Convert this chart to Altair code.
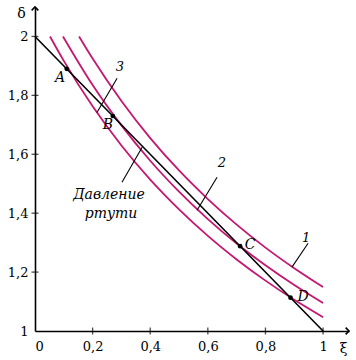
import altair as alt
import pandas as pd

# Curve data (xi, delta)
c1_xi = [0.153, 0.2, 0.3, 0.4, 0.5, 0.6, 0.7, 0.8, 0.9, 1.0]
c1_de = [2.0, 1.925, 1.781, 1.655, 1.545, 1.448, 1.361, 1.283, 1.213, 1.149]
c2_xi = [0.097, 0.2, 0.3, 0.4, 0.5, 0.6, 0.7, 0.8, 0.9, 1.0]
c2_de = [2.0, 1.835, 1.698, 1.578, 1.473, 1.380, 1.297, 1.223, 1.156, 1.095]
c3_xi = [0.052, 0.1, 0.2, 0.3, 0.4, 0.5, 0.6, 0.7, 0.8, 0.9, 1.0]
c3_de = [2.0, 1.917, 1.763, 1.630, 1.514, 1.413, 1.323, 1.243, 1.171, 1.106, 1.047]

line_xi = [0.0, 1.0]
line_de = [2.0, 1.0]

pt_names = ["A", "B", "C", "D"]
pt_xi = [0.11, 0.27, 0.712, 0.887]
pt_de = [1.89, 1.73, 1.288, 1.113]
pt_lab_xi = [0.087, 0.253, 0.747, 0.931]
pt_lab_de = [1.858, 1.698, 1.292, 1.115]

num_labels = ["3", "2", "1"]
num_xi = [0.295, 0.649, 0.941]
num_de = [1.895, 1.569, 1.315]

lead_x1 = [0.285, 0.632, 0.948, 0.372]
lead_y1 = [1.858, 1.522, 1.298, 1.624]
lead_x2 = [0.215, 0.5625, 0.892, 0.302]
lead_y2 = [1.742, 1.410, 1.217, 1.505]

text_lines = ["Давление", "ртути"]
text_xi = [0.257, 0.264]
text_de = [1.461, 1.397]

x_ticks = [0.2, 0.4, 0.6, 0.8, 1.0]
y_ticks = [1.2, 1.4, 1.6, 1.8, 2.0]

XMAX = 1.09
YMAX = 2.1
MAG = "#c4176f"
SERIF = "DejaVu Serif"

curves = pd.concat([
    pd.DataFrame({"xi": c1_xi, "de": c1_de, "c": "1"}),
    pd.DataFrame({"xi": c2_xi, "de": c2_de, "c": "2"}),
    pd.DataFrame({"xi": c3_xi, "de": c3_de, "c": "3"}),
])

xs = alt.Scale(domain=[0, XMAX], nice=False, zero=False)
ys = alt.Scale(domain=[1, YMAX], nice=False, zero=False)

xlab = "datum.value == 0 ? '0' : datum.value == 1 ? '1' : replace(format(datum.value, '.1f'), '.', ',')"
ylab = "datum.value == 1 ? '1' : datum.value == 2 ? '2' : replace(format(datum.value, '.1f'), '.', ',')"

xaxis = alt.Axis(values=[0, 0.2, 0.4, 0.6, 0.8, 1.0], labelExpr=xlab, ticks=False, tickSize=0,
                 labelPadding=9, grid=False, title="ξ", titleX=308, titleY=17,
                 titleBaseline="middle", titleAlign="center", titleFont=SERIF,
                 titleFontSize=14, titleFontWeight="normal")
yaxis = alt.Axis(values=[1, 1.2, 1.4, 1.6, 1.8, 2.0], labelExpr=ylab, ticks=False, tickSize=0,
                 labelPadding=7, grid=False, title="δ", titleAngle=0, titleX=-14, titleY=6,
                 titleBaseline="middle", titleAlign="center", titleFont=SERIF,
                 titleFontSize=14, titleFontWeight="normal")

base = alt.Chart(curves).mark_line(color=MAG, strokeWidth=1.8, interpolate="monotone").encode(
    x=alt.X("xi:Q", scale=xs, axis=xaxis),
    y=alt.Y("de:Q", scale=ys, axis=yaxis),
    detail="c:N",
)

straight = alt.Chart(pd.DataFrame({"xi": line_xi, "de": line_de})).mark_line(
    color="black", strokeWidth=1.6).encode(x=alt.X("xi:Q", scale=xs), y=alt.Y("de:Q", scale=ys))

pts = alt.Chart(pd.DataFrame({"xi": pt_xi, "de": pt_de})).mark_point(
    filled=True, color="black", size=22, opacity=1).encode(
    x=alt.X("xi:Q", scale=xs), y=alt.Y("de:Q", scale=ys))

pt_text = alt.Chart(pd.DataFrame({"xi": pt_lab_xi, "de": pt_lab_de, "t": pt_names})).mark_text(
    font=SERIF, fontSize=14, fontStyle="italic", color="black").encode(
    x=alt.X("xi:Q", scale=xs), y=alt.Y("de:Q", scale=ys), text="t:N")

num_text = alt.Chart(pd.DataFrame({"xi": num_xi, "de": num_de, "t": num_labels})).mark_text(
    font=SERIF, fontSize=13, fontStyle="italic", color="black").encode(
    x=alt.X("xi:Q", scale=xs), y=alt.Y("de:Q", scale=ys), text="t:N")

leaders = alt.Chart(pd.DataFrame({"x1": lead_x1, "y1": lead_y1, "x2": lead_x2, "y2": lead_y2})).mark_rule(
    color="black", strokeWidth=1.1).encode(
    x=alt.X("x1:Q", scale=xs), y=alt.Y("y1:Q", scale=ys), x2="x2:Q", y2="y2:Q")

words = alt.Chart(pd.DataFrame({"xi": text_xi, "de": text_de, "t": text_lines})).mark_text(
    font=SERIF, fontSize=14, fontStyle="italic", color="black").encode(
    x=alt.X("xi:Q", scale=xs), y=alt.Y("de:Q", scale=ys), text="t:N")

xt = alt.Chart(pd.DataFrame({"xi": x_ticks})).mark_tick(
    orient="vertical", size=7, thickness=1.3, color="black").encode(
    x=alt.X("xi:Q", scale=xs), y=alt.datum(1, scale=ys))
yt = alt.Chart(pd.DataFrame({"de": y_ticks})).mark_tick(
    orient="horizontal", size=7, thickness=1.3, color="black").encode(
    y=alt.Y("de:Q", scale=ys), x=alt.datum(0, scale=xs))

xarrow = alt.Chart(pd.DataFrame({"xi": [XMAX], "de": [1.0]})).mark_point(
    shape="M-1,-1L0,0L-1,1", filled=False, color="black", strokeWidth=1.6, size=45, opacity=1).encode(
    x=alt.X("xi:Q", scale=xs), y=alt.Y("de:Q", scale=ys))
yarrow = alt.Chart(pd.DataFrame({"xi": [0.0], "de": [YMAX]})).mark_point(
    shape="M-1,1L0,0L1,1", filled=False, color="black", strokeWidth=1.6, size=45, opacity=1).encode(
    x=alt.X("xi:Q", scale=xs), y=alt.Y("de:Q", scale=ys))

chart = alt.layer(base, straight, leaders, pts, pt_text, num_text, words, xt, yt, xarrow, yarrow).properties(
    width=314, height=324,
    padding={"left": 35, "top": 7, "right": 7, "bottom": 29},
    autosize="none",
    background="white",
).configure_view(stroke=None).configure_axis(
    domainColor="black", domainWidth=1.6, labelFont=SERIF, labelFontSize=13, labelColor="black",
    titleColor="black",
)

chart.save("out.html", embed_options={"renderer": "svg", "actions": False})
